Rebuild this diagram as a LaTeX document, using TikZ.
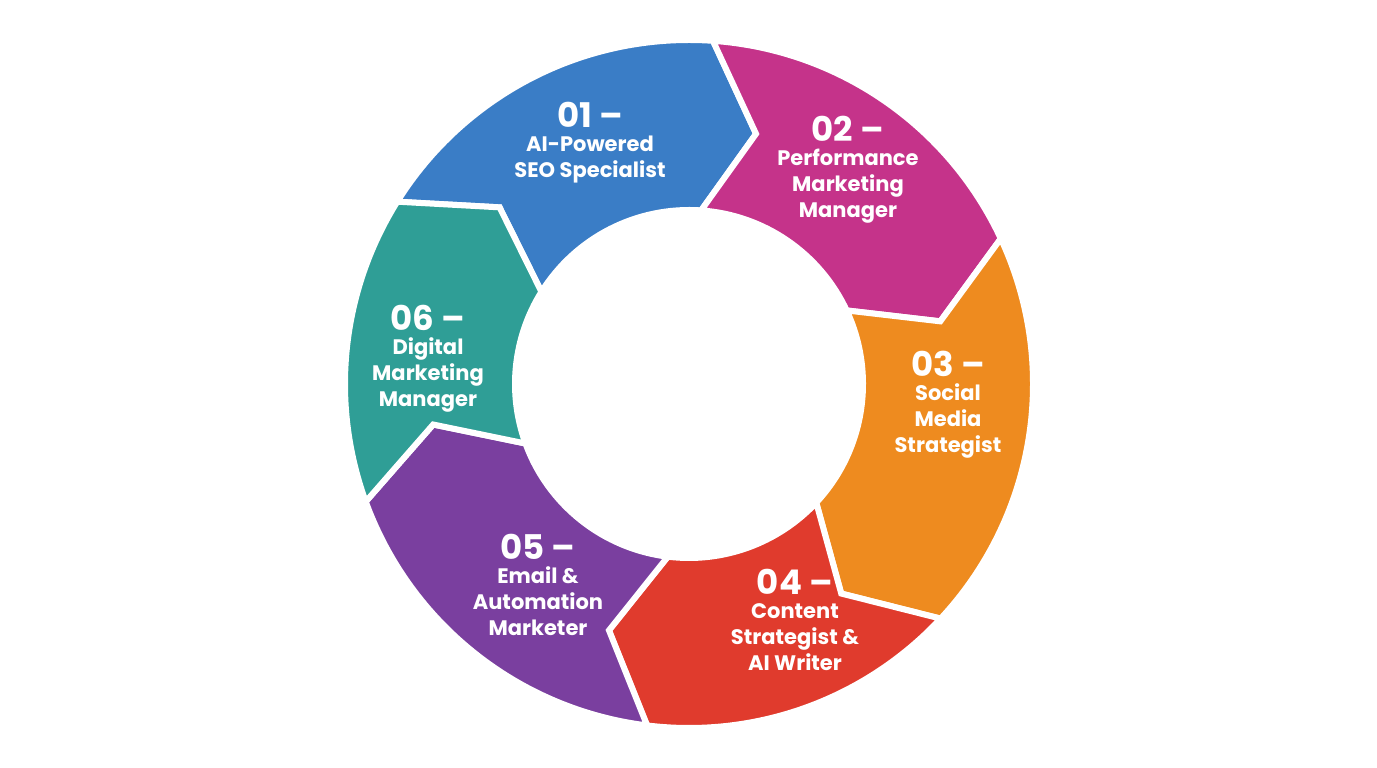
\documentclass[tikz,border=0pt]{standalone}
\usepackage{fontspec}
\setmainfont{Poppins}
\begin{document}
\begin{tikzpicture}[x=1pt,y=1pt,
  seg/.style={draw=white,line width=6pt,line join=miter},
  lbl/.style={text=white,align=center,font=\fontsize{21}{26}\selectfont\bfseries},
  num/.style={font=\fontsize{34}{38}\selectfont\bfseries}]
\useasboundingbox (0,0) rectangle (1377,768);
\definecolor{c1}{HTML}{3A7DC6}
\definecolor{c2}{HTML}{C5338A}
\definecolor{c3}{HTML}{EE8B1F}
\definecolor{c4}{HTML}{E03B2D}
\definecolor{c5}{HTML}{7A3F9F}
\definecolor{c6}{HTML}{2F9E96}
\def\R{344}\def\r{174}\def\m{259}\def\d{11}
\begin{scope}[shift={(689,384)}]
\foreach \s/\e/\c in {148/86/c1, 86/25/c2, 25/-43/c3, -43/-97/c4, -97/-160/c5, -160/-212/c6}{
  \pgfmathsetmacro\te{\e-\d}
  \pgfmathsetmacro\ts{\s-\d}
  \fill[\c,seg] (\s:\R) arc[start angle=\s,end angle=\e,radius=\R] -- (\te:\m) -- (\e:\r)
     arc[start angle=\e,end angle=\s,radius=\r] -- (\ts:\m) -- cycle;
}
\end{scope}
\node[lbl] (t1) at (590,625) {{\fontsize{34}{38}\selectfont 01 –}\\[-2pt]AI-Powered\\SEO Specialist};
\node[lbl] (t2) at (848,598) {{\fontsize{34}{38}\selectfont 02 –}\\[-2pt]Performance\\Marketing\\Manager};
\node[lbl] (t3) at (948,363) {{\fontsize{34}{38}\selectfont 03 –}\\[-2pt]Social\\Media\\Strategist};
\node[lbl] (t4) at (795,148) {{\fontsize{34}{38}\selectfont 04 –}\\[-2pt]Content\\Strategist \&\\AI Writer};
\node[lbl] (t5) at (538,183) {{\fontsize{34}{38}\selectfont 05 –}\\[-2pt]Email \&\\Automation\\Marketer};
\node[lbl] (t6) at (428,409) {{\fontsize{34}{38}\selectfont 06 –}\\[-2pt]Digital\\Marketing\\Manager};
\end{tikzpicture}
\end{document}
